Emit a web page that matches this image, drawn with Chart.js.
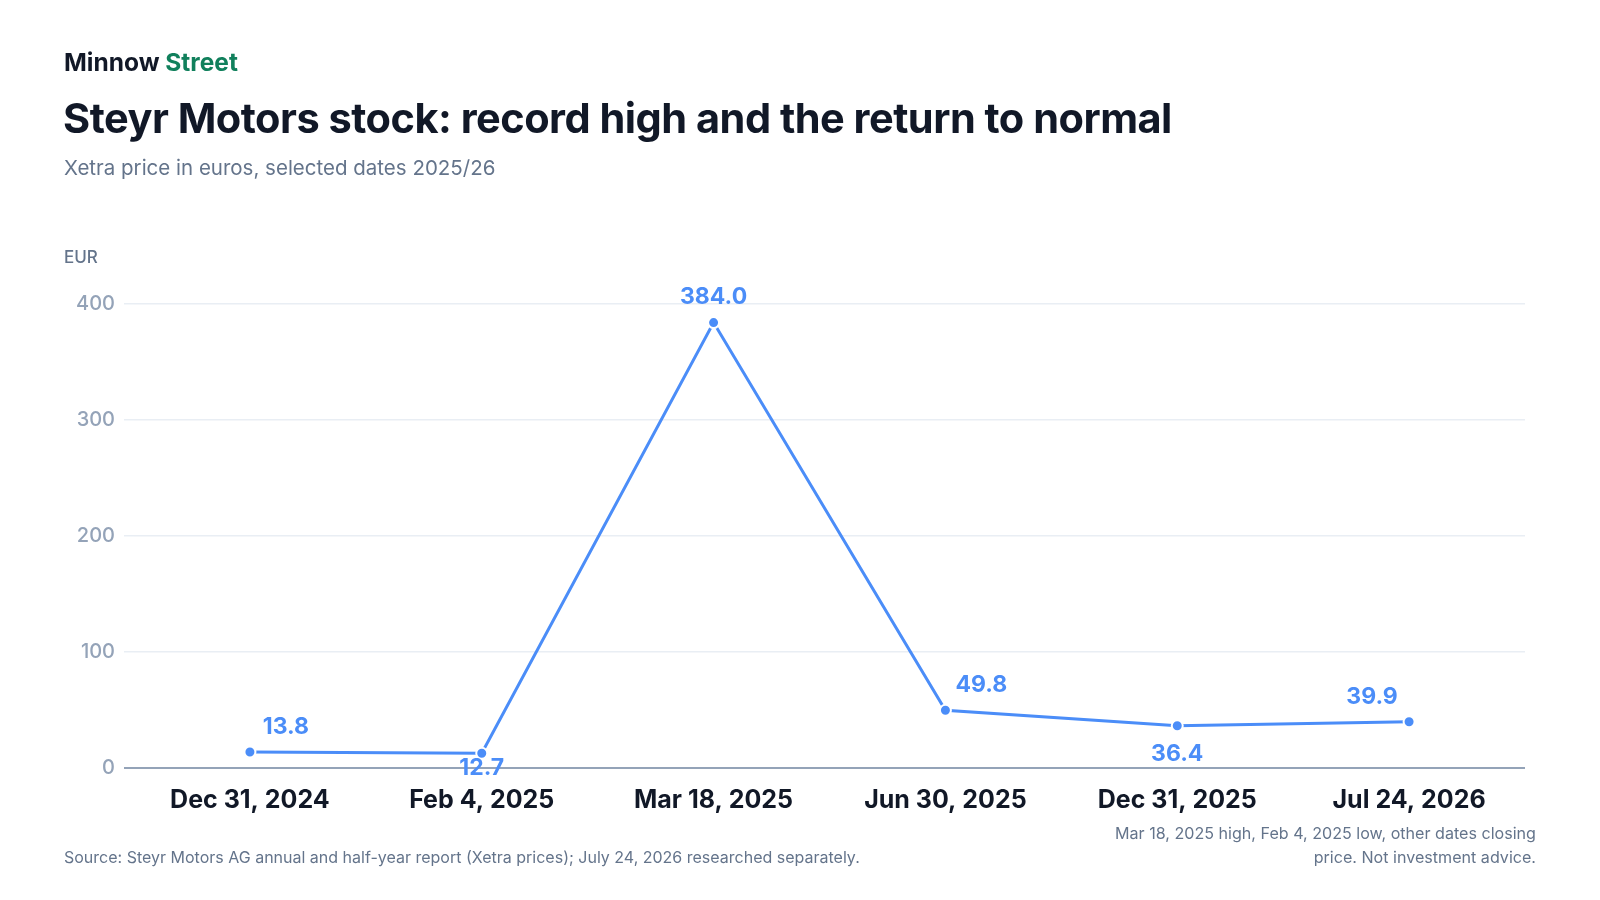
<!DOCTYPE html>
<html>
<head>
<meta charset="utf-8">
<script src="https://cdn.jsdelivr.net/npm/chart.js@4.4.1/dist/chart.umd.min.js"></script>
<style>
  html, body { margin: 0; padding: 0; background: #ffffff; }
  body { width: 1600px; height: 900px; position: relative; overflow: hidden; font-family: Inter, "Noto Sans", sans-serif; }
  #chart { position: absolute; left: 0; top: 0; }
  .t { position: absolute; white-space: nowrap; }
  #brand { left: 64px; top: 47px; font-size: 24.5px; line-height: 30px; font-weight: 700; color: #111827; letter-spacing: 0px; }
  #brand span { color: #11805c; }
  #title { left: 63px; top: 93px; font-size: 41.5px; line-height: 50px; font-weight: 700; color: #111827; letter-spacing: -0.5px; }
  #subtitle { left: 64px; top: 155px; font-size: 20.5px; line-height: 26px; color: #64748b; }
  #unit { left: 64px; top: 246px; font-size: 17px; line-height: 22px; font-weight: 500; color: #64748b; }
  #source { left: 64px; top: 846px; font-size: 16px; line-height: 22px; color: #64748b; }
  #note { right: 64px; top: 821px; font-size: 16.1px; line-height: 24px; color: #64748b; text-align: right; }
</style>
</head>
<body>
<canvas id="chart" width="1600" height="900"></canvas>
<div class="t" id="brand">Minnow <span>Street</span></div>
<div class="t" id="title">Steyr Motors stock: record high and the return to normal</div>
<div class="t" id="subtitle">Xetra price in euros, selected dates 2025/26</div>
<div class="t" id="unit">EUR</div>
<div class="t" id="source">Source: Steyr Motors AG annual and half-year report (Xetra prices); July 24, 2026 researched separately.</div>
<div class="t" id="note">Mar 18, 2025 high, Feb 4, 2025 low, other dates closing<br>price. Not investment advice.</div>
<script>
// ---- data ----
const dates = ["Dec 31, 2024", "Feb 4, 2025", "Mar 18, 2025", "Jun 30, 2025", "Dec 31, 2025", "Jul 24, 2026"];
const prices = [13.8, 12.7, 384.0, 49.8, 36.4, 39.9];
const yTicks = [0, 100, 200, 300, 400];
const labelPlacement = ["above-right", "below", "above", "above-right", "below-far", "above-left"];

const blue = "#4b8df8";

const placementOffsets = {
  "above": [0, -25],
  "below": [0, 15],
  "below-far": [0, 28],
  "above-right": [36, -25],
  "above-left": [-37, -25]
};

const valueLabels = {
  id: "valueLabels",
  afterDatasetsDraw(chart) {
    const ctx = chart.ctx;
    const meta = chart.getDatasetMeta(0);
    ctx.save();
    ctx.font = "700 23px Inter";
    ctx.fillStyle = blue;
    ctx.textAlign = "center";
    ctx.textBaseline = "middle";
    meta.data.forEach((pt, i) => {
      const [dx, dy] = placementOffsets[labelPlacement[i]];
      ctx.fillText(prices[i].toFixed(1), pt.x + dx, pt.y + dy);
    });
    ctx.restore();
  }
};

new Chart(document.getElementById("chart"), {
  type: "line",
  data: {
    labels: dates,
    datasets: [{
      data: prices,
      borderColor: blue,
      backgroundColor: blue,
      borderWidth: 3,
      pointRadius: 5.5,
      pointBackgroundColor: blue,
      pointBorderColor: "#ffffff",
      pointBorderWidth: 2,
      tension: 0,
      clip: false
    }]
  },
  options: {
    responsive: false,
    animation: false,
    devicePixelRatio: 1,
    layout: { padding: { left: 0, top: 304, right: 75, bottom: 72 } },
    plugins: { legend: { display: false }, tooltip: { enabled: false } },
    scales: {
      x: {
        offset: true,
        afterFit(scale) { scale.height = 60; },
        grid: { display: false },
        border: { display: false },
        ticks: { color: "#111827", font: { family: "Inter", size: 25, weight: "700" }, padding: 9, maxRotation: 0 }
      },
      y: {
        min: 0, max: 400,
        afterFit(scale) { scale.width = 134; },
        afterBuildTicks(scale) { scale.ticks = yTicks.map(v => ({ value: v })); },
        border: { display: false },
        grid: {
          color: c => (c.tick && c.tick.value === 0) ? "#94a3b8" : "#e9eef4",
          lineWidth: c => (c.tick && c.tick.value === 0) ? 2 : 1.5,
          tickLength: 10,
          drawTicks: true
        },
        ticks: { color: "#94a3b8", font: { family: "Inter", size: 20, weight: "500" }, padding: 9 }
      }
    }
  },
  plugins: [valueLabels]
});
</script>
</body>
</html>
